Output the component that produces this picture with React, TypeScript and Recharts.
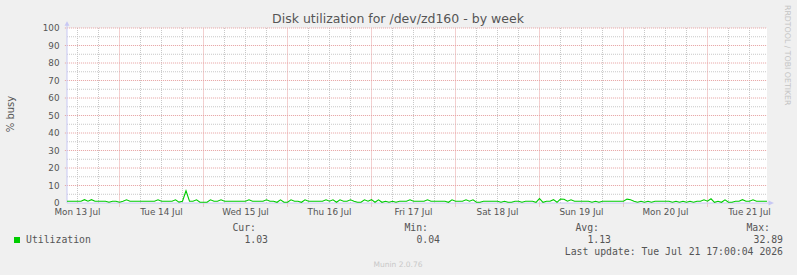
import React from 'react';
import { LineChart, Line, XAxis, YAxis, ReferenceLine, ReferenceDot } from 'recharts';

// time axis in hours from Mon 13 Jul 00:00
const startHour = 9;
const endHour = 209;

// % busy, hourly samples from startHour to endHour
const utilization = [
  1.0, 1.0, 1.0, 1.0, 1.0, 1.9, 1.0, 1.9, 1.0, 1.0, 1.0, 1.0, 0.4, 1.0, 1.0,
  0.4, 1.0, 1.8, 1.0, 1.0, 1.0, 1.0, 1.0, 1.0, 1.0, 1.0, 1.8, 1.0, 1.0, 1.0, 1.0, 1.8, 0.5, 1.0, 7.0, 1.0, 1.0, 1.8, 0.4,
  0.4, 0.4, 1.8, 1.0, 1.0, 1.8, 1.0, 1.0, 1.0, 1.0, 1.0, 1.0, 1.0, 1.8, 1.0, 1.0, 1.0, 1.0, 1.8, 1.0, 1.0, 0.4, 1.8, 0.4,
  0.4, 1.8, 1.0, 1.0, 0.4, 1.8, 1.0, 1.0, 1.0, 1.0, 1.0, 1.8, 1.0, 1.8, 0.4, 1.8, 1.0, 1.0, 1.8, 1.0, 0.4, 0.4, 1.8, 1.0,
  1.9, 0.4, 1.8, 0.4, 1.0, 0.4, 1.0, 0.4, 1.0, 1.0, 1.0, 1.8, 1.0, 1.0, 1.0, 1.0, 1.8, 1.0, 1.0, 1.0, 1.0, 1.0, 0.4, 1.8,
  1.0, 1.0, 1.0, 1.8, 1.0, 1.8, 0.4, 0.4, 1.0, 1.0, 1.0, 1.0, 1.0, 0.4, 1.0, 0.4, 0.4, 1.0, 1.0, 0.4, 1.0, 1.0, 1.0, 0.4,
  2.5, 0.4, 1.0, 1.0, 1.9, 0.4, 2.2, 2.1, 1.0, 1.8, 1.0, 1.0, 1.0, 1.0, 1.0, 0.4, 1.0, 0.4, 1.0, 1.0, 1.0, 1.0, 1.0, 1.0,
  1.0, 2.2, 1.9, 1.0, 0.4, 1.0, 0.4, 1.0, 0.4, 1.0, 1.0, 1.0, 1.0, 1.0, 0.4, 1.0, 0.4, 1.0, 0.4, 1.0, 0.4, 1.0, 1.0, 1.8,
  1.0, 2.4, 0.4, 1.0, 0.4, 1.8, 0.4, 0.4, 1.0, 1.0, 1.9, 1.0, 1.0, 1.8, 1.0, 1.0, 1.0, 1.03,
];

const dayLabels = ['Mon 13 Jul', 'Tue 14 Jul', 'Wed 15 Jul', 'Thu 16 Jul', 'Fri 17 Jul', 'Sat 18 Jul', 'Sun 19 Jul', 'Mon 20 Jul', 'Tue 21 Jul'];
const dayLabelHours = [12, 36, 60, 84, 108, 132, 156, 180, 204];
const dayLines = [24, 48, 72, 96, 120, 144, 168, 192];
const sixHourLines = [12, 18, 30, 36, 42, 54, 60, 66, 78, 84, 90, 102, 108, 114, 126, 132, 138, 150, 156, 162, 174, 180, 186, 198, 204];
const yTicks = [0, 10, 20, 30, 40, 50, 60, 70, 80, 90, 100];
const yMajorLines = [10, 20, 30, 40, 50, 60, 70, 80, 90, 100];
const yMinorLines = [5, 15, 25, 35, 45, 55, 65, 75, 85, 95];

const title = 'Disk utilization for /dev/zd160 - by week';
const yLabel = '% busy';
const seriesName = 'Utilization';
const statLabels = ['Cur:', 'Min:', 'Avg:', 'Max:'];
const statValues = ['1.03', '0.04', '1.13', '32.89'];
const lastUpdate = 'Last update: Tue Jul 21 17:00:04 2026';
const footer = 'Munin 2.0.76';
const watermark = 'RRDTOOL / TOBI OETIKER';

const data = utilization.map((v, i) => ({ t: startHour + i, util: v }));

const GREEN = '#00cc00';
const RED_GRID = '#e6a0a0';
const GRAY_GRID = '#c8c8c8';
const AXIS = '#c8c8f4';
const TEXT = '#555555';
const SANS = '"DejaVu Sans", Verdana, sans-serif';
const MONO = '"DejaVu Sans Mono", monospace';

const statLabelRight = [256, 428, 599, 770];
const statValueRight = [268, 440, 611, 783];

export default function App() {
  return (
    <div style={{ position: 'relative', width: 797, height: 275, background: '#f0f0f0', overflow: 'hidden' }}>
      <style>{'body{margin:0;}'}</style>
      <div style={{ position: 'absolute', left: 67, top: 28, width: 700, height: 175, background: '#ffffff' }} />
      <div style={{ position: 'absolute', left: 0, top: 0 }}>
        <LineChart width={797} height={275} data={data} margin={{ top: 28, right: 30, bottom: 0, left: 0 }}>
          <XAxis
            dataKey="t"
            type="number"
            domain={[startHour, endHour]}
            ticks={dayLabelHours}
            interval={0}
            tickFormatter={(v: number) => dayLabels[dayLabelHours.indexOf(v)] ?? ''}
            height={72}
            axisLine={false}
            tickLine={false}
            tickSize={4}
            tickMargin={2}
            tick={{ fontSize: 8.8, fill: TEXT, fontFamily: SANS }}
            allowDataOverflow
          />
          <YAxis
            type="number"
            domain={[0, 100]}
            ticks={yTicks}
            interval={0}
            width={67}
            axisLine={false}
            tickLine={false}
            tickSize={4}
            tickMargin={3.5}
            tick={{ fontSize: 8.8, fill: TEXT, fontFamily: SANS }}
            allowDataOverflow
          />
          {yMinorLines.map((y) => (
            <ReferenceLine key={'ym' + y} segment={[{ x: startHour, y }, { x: endHour, y }]} stroke={GRAY_GRID} strokeDasharray="1 1" ifOverflow="visible" />
          ))}
          {sixHourLines.map((x) => (
            <ReferenceLine key={'xm' + x} segment={[{ x, y: 0 }, { x, y: 100 }]} stroke={GRAY_GRID} strokeDasharray="1 1" ifOverflow="visible" />
          ))}
          {yMajorLines.map((y) => (
            <ReferenceLine key={'yM' + y} segment={[{ x: startHour - 0.6, y }, { x: endHour, y }]} stroke={RED_GRID} strokeDasharray="1 1" ifOverflow="visible" />
          ))}
          {dayLines.map((x) => (
            <ReferenceLine key={'xM' + x} segment={[{ x, y: -2 }, { x, y: 100 }]} stroke={RED_GRID} strokeDasharray="1 1" ifOverflow="visible" />
          ))}
          <ReferenceLine segment={[{ x: startHour, y: 0 }, { x: endHour + 1, y: 0 }]} stroke={AXIS} ifOverflow="visible" />
          <ReferenceLine segment={[{ x: startHour, y: 0 }, { x: startHour, y: 102 }]} stroke={AXIS} ifOverflow="visible" />
          <ReferenceDot
            x={startHour}
            y={100}
            ifOverflow="visible"
            shape={(p: any) => (
              <path d={`M${p.cx - 2.5},${p.cy - 2.2} L${p.cx},${p.cy - 6.8} L${p.cx + 2.5},${p.cy - 2.2} Z`} fill={AXIS} />
            )}
          />
          <ReferenceDot
            x={endHour}
            y={0}
            ifOverflow="visible"
            shape={(p: any) => (
              <path d={`M${p.cx + 1.5},${p.cy - 2.5} L${p.cx + 7},${p.cy} L${p.cx + 1.5},${p.cy + 2.5} Z`} fill={AXIS} />
            )}
          />
          <Line type="linear" dataKey="util" stroke={GREEN} strokeWidth={1.1} dot={false} isAnimationActive={false} />
        </LineChart>
      </div>
      <svg width={797} height={275} style={{ position: 'absolute', left: 0, top: 0, pointerEvents: 'none' }}>
        <text x={398} y={23} textAnchor="middle" fontFamily={SANS} fontSize={12.5} fill={TEXT}>{title}</text>
        <text x={14} y={114} textAnchor="middle" fontFamily={SANS} fontSize={10} fill={TEXT} transform="rotate(-90 14 114)">{yLabel}</text>
        <text x={785} y={5} fontFamily={SANS} fontSize={7.8} fill="#c4c4c4" transform="rotate(90 785 5)">{watermark}</text>
        <rect x={14} y={237} width={6} height={6} fill={GREEN} />
        <text x={26} y={243} fontFamily={MONO} fontSize={9.8} fill={TEXT}>{seriesName}</text>
        {statLabels.map((s, i) => (
          <text key={s} x={statLabelRight[i]} y={231} textAnchor="end" fontFamily={MONO} fontSize={9.8} fill={TEXT}>{s}</text>
        ))}
        {statValues.map((s, i) => (
          <text key={'v' + i} x={statValueRight[i]} y={243} textAnchor="end" fontFamily={MONO} fontSize={9.8} fill={TEXT}>{s}</text>
        ))}
        <text x={783} y={254.5} textAnchor="end" fontFamily={MONO} fontSize={9.8} fill={TEXT}>{lastUpdate}</text>
        <text x={398} y={267} textAnchor="middle" fontFamily={SANS} fontSize={7.5} fill="#c8c8c8">{footer}</text>
      </svg>
    </div>
  );
}
